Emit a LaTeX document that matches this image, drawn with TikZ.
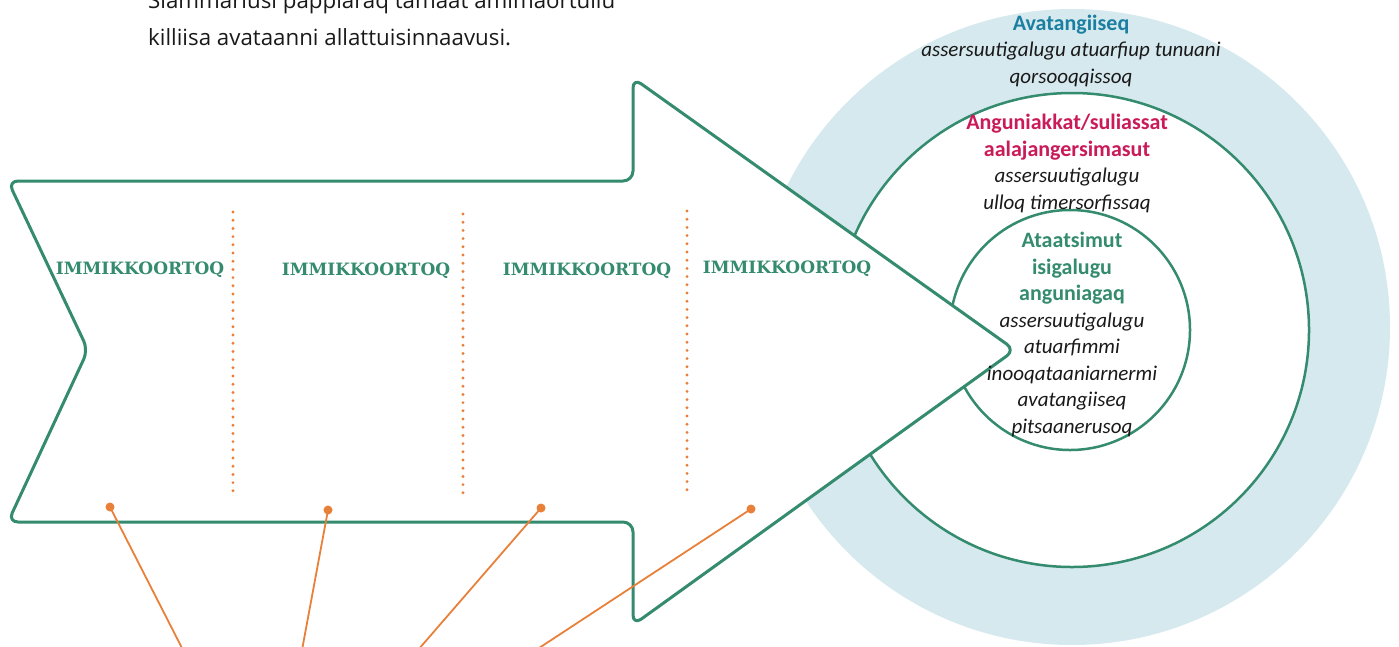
\documentclass[tikz,border=0pt]{standalone}
\usepackage{fontspec}
\setmainfont{Carlito}
\newfontfamily\slabfont{DejaVu Serif}
\newfontfamily\introfont{Open Sans}
\usepackage{tikz}
\usetikzlibrary{calc}
\usepackage{xcolor}
\definecolor{arrowgreen}{RGB}{52,139,110}
\definecolor{ringblue}{RGB}{214,233,239}
\definecolor{headblue}{RGB}{26,127,160}
\definecolor{headred}{RGB}{202,26,88}
\definecolor{dotorange}{RGB}{233,128,58}
\definecolor{inktext}{RGB}{25,25,25}

\tikzset{
  ring/.style={circle, draw=arrowgreen, line width=2.5pt, fill=white, inner sep=0pt},
  part/.style={font=\slabfont\bfseries\fontsize{17}{20}\selectfont, text=arrowgreen, inner sep=0pt, anchor=base},
  divider/.style={dotorange, line width=3.2pt, line cap=round, dash pattern=on 0pt off 8.2pt},
  pin/.style={fill=dotorange, circle, inner sep=0pt, minimum size=9pt},
  leader/.style={dotorange, line width=1.8pt},
  ringtext/.style={align=center, inner sep=0pt, anchor=base, text=inktext, font=\fontsize{21}{26.5}\selectfont},
}

\begin{document}
\begin{tikzpicture}[x=1pt, y=-1pt]
\useasboundingbox (0,0) rectangle (1399,646);
% circles
\node[circle, fill=ringblue, inner sep=0pt, minimum size=636pt](env) at (1072,327) {};
\node[ring, minimum size=474pt](goals) at (1072,330) {};
\node[ring, minimum size=240pt](aim) at (1070,330) {};
% the arrow
\draw[arrowgreen, line width=3pt, fill=white, rounded corners=10pt, line join=round]
  (300,181) -- (8,181) -- (88,350) -- (8,522) -- (633,522) -- (633,625)
  -- (1015,350) -- (633,78) -- (633,181) -- cycle;
% dotted dividers
\draw[divider] (233,212) -- (233,493);
\draw[divider] (463,214) -- (463,495);
\draw[divider] (687,211) -- (687,492);
% parts
\node[part](part1) at (140,274) {IMMIKKOORTOQ};
\node[part](part2) at (366,275) {IMMIKKOORTOQ};
\node[part](part3) at (587,275) {IMMIKKOORTOQ};
\node[part](part4) at (787,273) {IMMIKKOORTOQ};
% ring texts (anchored on their last line)
\node[ringtext](envtext) at (1071,83) {{\color{headblue}\fontsize{22}{26.5}\selectfont\bfseries Avatangiiseq}\\
  \textit{assersuutigalugu atuarfiup tunuani}\\ \textit{qorsooqqissoq}};
\node[ringtext](goalstext) at (1067,209) {{\color{headred}\fontsize{22}{26.5}\selectfont\bfseries Anguniakkat/suliassat}\\
  {\color{headred}\fontsize{22}{26.5}\selectfont\bfseries aalajangersimasut}\\ \textit{assersuutigalugu}\\ \textit{ulloq timersorfissaq}};
\node[ringtext](aimtext) at (1072,433) {{\color{arrowgreen}\fontsize{22}{26.5}\selectfont\bfseries Ataatsimut}\\
  {\color{arrowgreen}\fontsize{22}{26.5}\selectfont\bfseries isigalugu}\\ {\color{arrowgreen}\fontsize{22}{26.5}\selectfont\bfseries anguniagaq}\\
  \textit{assersuutigalugu}\\ \textit{atuarfimmi}\\ \textit{inooqataaniarnermi}\\
  \textit{avatangiiseq}\\ \textit{pitsaanerusoq}};
% intro text, cut by the page
\node[anchor=base west, align=left, inner sep=0pt, text=inktext, font=\introfont\fontsize{22.3}{37}\selectfont](intro) at (148,45)
  {Siammarlusi pappiaraq tamaat amimaortullu\\ killiisa avataanni allattuisinnaavusi.};
% leaders
\node[pin](p1) at (110,507) {};
\node[pin](p2) at (328,510) {};
\node[pin](p3) at (541,508) {};
\node[pin](p4) at (751,509) {};
\coordinate (e1) at (183,650);
\coordinate (e2) at (302,650);
\coordinate (e3) at (418,650);
\coordinate (e4) at (536,650);
\draw[leader] (p1.center) -- (e1);
\draw[leader] (p2.center) -- (e2);
\draw[leader] (p3.center) -- (e3);
\draw[leader] (p4.center) -- (e4);
\end{tikzpicture}
\end{document}
